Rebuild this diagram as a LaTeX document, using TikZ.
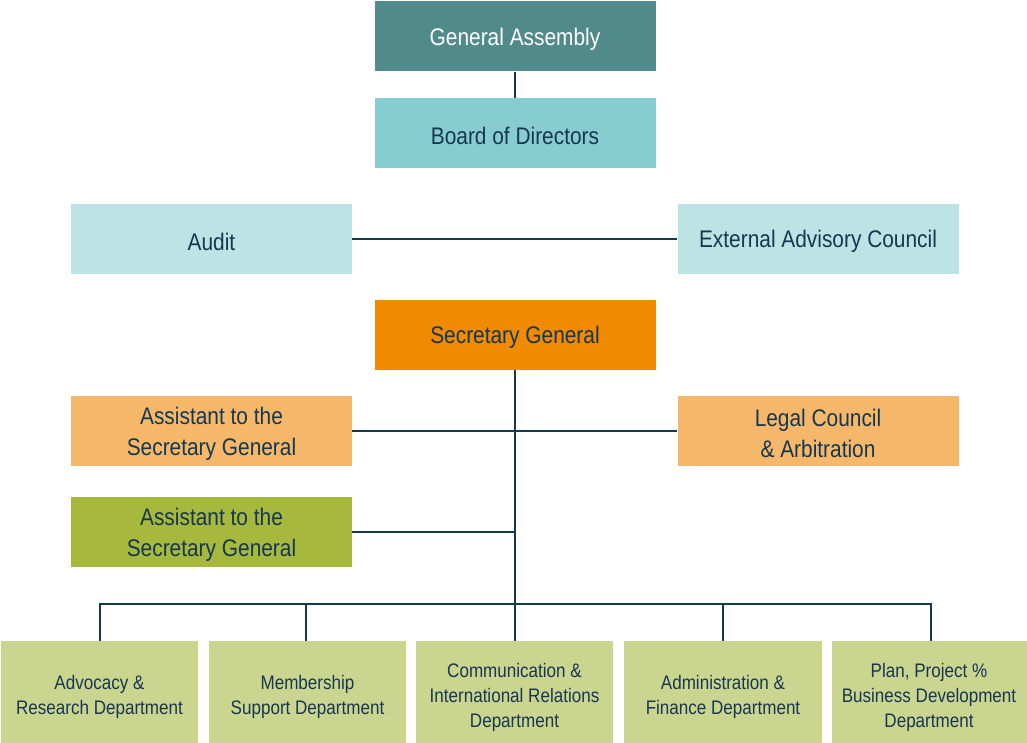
\documentclass[tikz,border=0pt]{standalone}
\usepackage{fontspec}
\setmainfont{Liberation Sans}[FakeStretch=0.87]
\definecolor{navy}{HTML}{173650}
\definecolor{gaC}{HTML}{518A8A}
\definecolor{bodC}{HTML}{87CDD0}
\definecolor{ltC}{HTML}{BDE3E4}
\definecolor{sgC}{HTML}{F08A00}
\definecolor{orC}{HTML}{F5B86B}
\definecolor{grC}{HTML}{A6B93D}
\definecolor{dpC}{HTML}{CAD68F}
\tikzset{
  box/.style={rectangle, draw=none, inner sep=0pt, minimum width=281pt, minimum height=70pt},
  btxt/.style={align=center, text=navy, inner sep=0pt, yshift=-2.5pt, font=\fontsize{24}{31}\selectfont},
  dept/.style={rectangle, draw=none, inner sep=0pt, minimum height=102pt, fill=dpC},
  dtxt/.style={align=center, text=navy, inner sep=0pt, yshift=-5pt, font=\fontsize{19.6}{25}\selectfont},
  conn/.style={draw=navy, line width=2.7pt}
}
\begin{document}
\begin{tikzpicture}[x=1pt,y=-1pt]
\useasboundingbox (0,0) rectangle (1027,743);
\node[box, fill=gaC, label={[btxt, text=white]center:General Assembly}] (ga) at (515,36.5) {};
\node[box, fill=bodC, label={[btxt]center:Board of Directors}] (bod) at (515,133) {};
\node[box, fill=ltC, label={[btxt]center:Audit}] (audit) at (211.5,239) {};
\node[box, fill=ltC, label={[btxt]center:External Advisory Council}] (eac) at (818,239) {};
\node[box, fill=sgC, label={[btxt]center:Secretary General}] (sg) at (515,335) {};
\node[box, fill=orC, label={[btxt]center:Assistant to the\\Secretary General}] (asst1) at (211.5,431) {};
\node[box, fill=orC, label={[btxt]center:Legal Council\\\& Arbitration}] (legal) at (818,431) {};
\node[box, fill=grC, label={[btxt]center:Assistant to the\\Secretary General}] (asst2) at (211.5,532) {};
\node[dept, minimum width=197pt, label={[dtxt]center:Advocacy \&\\Research Department}] (d1) at (99.5,692) {};
\node[dept, minimum width=197pt, label={[dtxt]center:Membership\\Support Department}] (d2) at (307.5,692) {};
\node[dept, minimum width=197pt, label={[dtxt]center:Communication \&\\International Relations\\Department}] (d3) at (514.5,692) {};
\node[dept, minimum width=198pt, label={[dtxt]center:Administration \&\\Finance Department}] (d4) at (723,692) {};
\node[dept, minimum width=195pt, label={[dtxt]center:Plan, Project \%\\Business Development\\Department}] (d5) at (929,692) {};
\coordinate (bus) at (515,604);
\coordinate (j2) at (515,532);
\draw[conn] (ga.south) -- (bod.north);
\draw[conn] (audit.east) -- (eac.west);
\draw[conn] (sg.south) -- (bus);
\draw[conn] (asst1.east) -- (legal.west);
\draw[conn] (asst2.east) -- (j2);
\draw[conn] (d1.north -| 100,0) |- (bus) -| (d5.north -| 931,0);
\draw[conn] (bus -| 306,0) -- (d2.north -| 306,0);
\draw[conn] (bus) -- (d3.north -| 515,0);
\draw[conn] (bus -| 723,0) -- (d4.north);
\end{tikzpicture}
\end{document}
